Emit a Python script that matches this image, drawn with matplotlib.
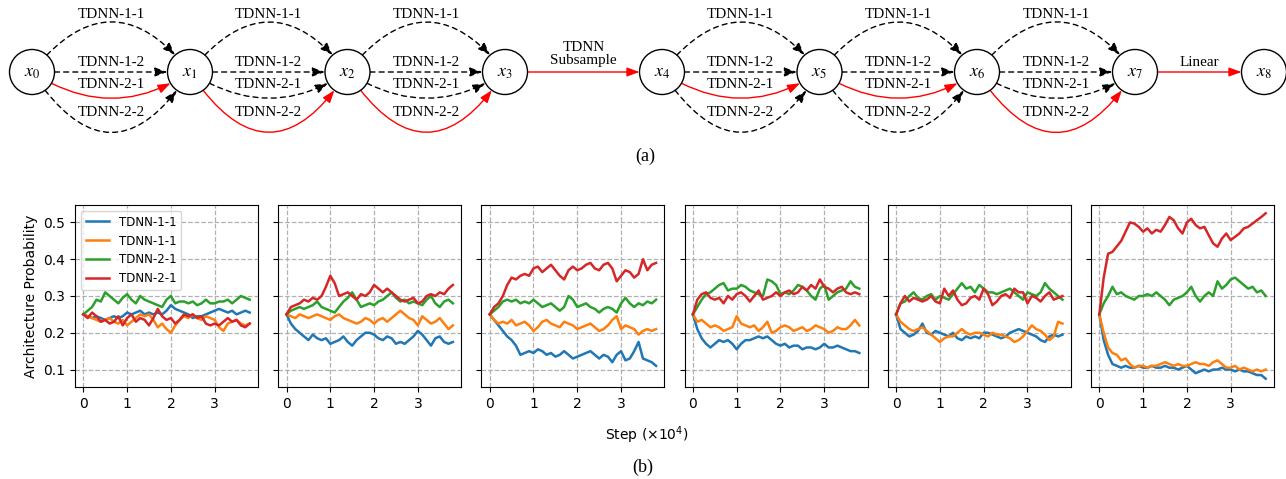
import numpy as np
import matplotlib
matplotlib.use("Agg")
import matplotlib.pyplot as plt
from matplotlib.patches import Circle, FancyArrowPatch

# ---------------- data ----------------
legend_labels = ["TDNN-1-1", "TDNN-1-1", "TDNN-2-1", "TDNN-2-1"]
x_ticks = [0, 1, 2, 3]
y_ticks = [0.1, 0.2, 0.3, 0.4, 0.5]
step_max = 3.8

blue1 = [0.25,0.245,0.24,0.245,0.24,0.235,0.24,0.245,0.24,0.245,0.255,0.25,0.255,0.26,0.25,0.255,0.25,0.255,0.25,0.26,0.275,0.265,0.26,0.255,0.25,0.24,0.245,0.245,0.25,0.255,0.26,0.265,0.26,0.255,0.26,0.25,0.255,0.26,0.255]
orange1 = [0.25,0.245,0.24,0.235,0.23,0.235,0.24,0.23,0.225,0.235,0.22,0.23,0.24,0.25,0.245,0.25,0.235,0.215,0.225,0.21,0.2,0.22,0.235,0.245,0.24,0.25,0.24,0.235,0.245,0.24,0.235,0.215,0.205,0.225,0.23,0.235,0.225,0.22,0.225]
green1 = [0.25,0.26,0.27,0.29,0.285,0.31,0.30,0.29,0.28,0.295,0.305,0.29,0.28,0.30,0.29,0.285,0.28,0.275,0.27,0.29,0.30,0.28,0.285,0.285,0.28,0.285,0.275,0.28,0.29,0.28,0.28,0.285,0.285,0.29,0.28,0.29,0.30,0.295,0.29]
red1 = [0.25,0.24,0.255,0.245,0.23,0.235,0.225,0.23,0.245,0.22,0.24,0.25,0.23,0.24,0.235,0.22,0.24,0.265,0.245,0.235,0.24,0.225,0.235,0.25,0.245,0.25,0.24,0.245,0.225,0.22,0.225,0.22,0.23,0.24,0.23,0.235,0.22,0.215,0.225]

blue2 = [0.25,0.225,0.21,0.2,0.19,0.18,0.195,0.185,0.18,0.185,0.17,0.175,0.18,0.19,0.175,0.165,0.18,0.19,0.2,0.2,0.195,0.185,0.18,0.19,0.185,0.17,0.175,0.17,0.18,0.19,0.205,0.195,0.18,0.165,0.185,0.19,0.175,0.17,0.175]
orange2 = [0.25,0.245,0.24,0.25,0.245,0.24,0.245,0.25,0.245,0.24,0.235,0.245,0.25,0.24,0.235,0.23,0.225,0.23,0.24,0.235,0.225,0.235,0.24,0.23,0.24,0.25,0.26,0.25,0.24,0.235,0.22,0.245,0.235,0.225,0.23,0.24,0.225,0.21,0.22]
green2 = [0.25,0.26,0.265,0.27,0.265,0.27,0.275,0.285,0.27,0.265,0.26,0.255,0.27,0.285,0.295,0.31,0.29,0.27,0.275,0.28,0.275,0.285,0.29,0.30,0.31,0.295,0.285,0.29,0.28,0.285,0.28,0.275,0.29,0.30,0.28,0.27,0.285,0.29,0.28]
red2 = [0.25,0.27,0.275,0.28,0.29,0.285,0.295,0.29,0.30,0.325,0.355,0.335,0.30,0.305,0.31,0.30,0.29,0.305,0.30,0.31,0.33,0.32,0.31,0.32,0.31,0.30,0.29,0.285,0.29,0.295,0.28,0.285,0.30,0.305,0.30,0.31,0.305,0.32,0.33]

blue3 = [0.25,0.235,0.22,0.205,0.19,0.18,0.165,0.14,0.145,0.15,0.145,0.155,0.15,0.14,0.145,0.135,0.14,0.15,0.14,0.13,0.135,0.14,0.145,0.15,0.14,0.13,0.14,0.135,0.12,0.14,0.15,0.125,0.13,0.15,0.175,0.13,0.125,0.12,0.11]
orange3 = [0.25,0.235,0.225,0.23,0.225,0.235,0.22,0.225,0.23,0.22,0.205,0.215,0.23,0.235,0.225,0.22,0.215,0.23,0.225,0.22,0.21,0.215,0.22,0.225,0.215,0.205,0.21,0.22,0.235,0.245,0.21,0.22,0.215,0.21,0.195,0.205,0.21,0.205,0.21]
green3 = [0.25,0.26,0.27,0.285,0.29,0.285,0.29,0.28,0.285,0.28,0.29,0.28,0.27,0.275,0.28,0.27,0.26,0.27,0.30,0.29,0.27,0.275,0.28,0.27,0.265,0.255,0.265,0.27,0.265,0.255,0.28,0.295,0.28,0.27,0.28,0.275,0.285,0.28,0.29]
red3 = [0.25,0.27,0.28,0.30,0.33,0.35,0.345,0.355,0.36,0.355,0.375,0.38,0.365,0.375,0.385,0.37,0.355,0.345,0.37,0.38,0.37,0.375,0.385,0.39,0.375,0.37,0.385,0.39,0.375,0.34,0.355,0.37,0.365,0.35,0.36,0.40,0.37,0.385,0.39]

blue4 = [0.25,0.21,0.185,0.17,0.16,0.17,0.18,0.175,0.18,0.17,0.155,0.17,0.18,0.18,0.185,0.19,0.185,0.19,0.18,0.17,0.165,0.17,0.16,0.165,0.165,0.155,0.16,0.16,0.155,0.16,0.17,0.16,0.16,0.165,0.16,0.155,0.15,0.15,0.145]
orange4 = [0.25,0.23,0.235,0.225,0.215,0.22,0.215,0.205,0.21,0.215,0.245,0.225,0.22,0.215,0.22,0.205,0.215,0.23,0.20,0.205,0.215,0.22,0.215,0.205,0.21,0.215,0.205,0.21,0.22,0.215,0.21,0.20,0.205,0.215,0.21,0.21,0.22,0.235,0.22]
green4 = [0.25,0.27,0.29,0.305,0.31,0.32,0.33,0.335,0.315,0.32,0.32,0.33,0.325,0.315,0.31,0.305,0.30,0.345,0.34,0.33,0.305,0.31,0.305,0.315,0.33,0.325,0.315,0.30,0.29,0.32,0.33,0.29,0.30,0.31,0.315,0.32,0.34,0.325,0.32]
red4 = [0.25,0.29,0.305,0.31,0.295,0.29,0.295,0.28,0.30,0.29,0.305,0.31,0.30,0.285,0.30,0.315,0.29,0.295,0.30,0.31,0.30,0.31,0.315,0.305,0.31,0.325,0.315,0.33,0.32,0.345,0.325,0.32,0.31,0.32,0.325,0.31,0.305,0.31,0.305]

blue5 = [0.25,0.21,0.2,0.19,0.195,0.205,0.225,0.2,0.195,0.205,0.2,0.195,0.19,0.2,0.185,0.18,0.19,0.185,0.19,0.185,0.2,0.2,0.195,0.19,0.185,0.19,0.2,0.205,0.21,0.205,0.2,0.195,0.19,0.18,0.175,0.19,0.195,0.19,0.195]
orange5 = [0.25,0.23,0.22,0.21,0.205,0.21,0.215,0.205,0.195,0.185,0.175,0.185,0.19,0.19,0.2,0.21,0.2,0.195,0.2,0.2,0.195,0.19,0.2,0.195,0.195,0.19,0.185,0.175,0.18,0.19,0.205,0.22,0.21,0.205,0.195,0.18,0.19,0.23,0.225]
green5 = [0.25,0.28,0.285,0.30,0.31,0.295,0.29,0.30,0.305,0.29,0.30,0.295,0.29,0.305,0.32,0.335,0.32,0.325,0.31,0.33,0.32,0.31,0.31,0.305,0.31,0.315,0.32,0.31,0.30,0.29,0.31,0.305,0.30,0.31,0.335,0.32,0.31,0.30,0.29]
red5 = [0.25,0.28,0.30,0.285,0.295,0.29,0.285,0.29,0.30,0.285,0.28,0.32,0.30,0.315,0.29,0.275,0.28,0.295,0.30,0.29,0.32,0.305,0.275,0.285,0.30,0.305,0.295,0.32,0.31,0.31,0.28,0.30,0.295,0.285,0.30,0.31,0.29,0.295,0.30]

blue6 = [0.25,0.18,0.14,0.115,0.11,0.105,0.11,0.105,0.105,0.11,0.105,0.105,0.11,0.105,0.105,0.11,0.105,0.105,0.1,0.105,0.11,0.1,0.09,0.095,0.1,0.095,0.1,0.1,0.105,0.1,0.1,0.095,0.1,0.095,0.095,0.09,0.085,0.085,0.075]
orange6 = [0.25,0.2,0.16,0.145,0.14,0.125,0.13,0.115,0.105,0.11,0.11,0.105,0.11,0.11,0.115,0.12,0.115,0.11,0.115,0.11,0.11,0.115,0.12,0.115,0.115,0.11,0.12,0.125,0.115,0.105,0.105,0.11,0.1,0.105,0.1,0.095,0.1,0.095,0.1]
green6 = [0.25,0.28,0.30,0.325,0.305,0.31,0.30,0.295,0.29,0.30,0.30,0.305,0.30,0.31,0.30,0.29,0.275,0.29,0.295,0.30,0.31,0.325,0.30,0.285,0.30,0.31,0.30,0.34,0.32,0.33,0.345,0.35,0.34,0.33,0.32,0.325,0.31,0.315,0.30]
red6 = [0.25,0.35,0.415,0.42,0.435,0.45,0.475,0.5,0.497,0.488,0.475,0.484,0.47,0.48,0.475,0.493,0.515,0.506,0.484,0.47,0.5,0.51,0.493,0.484,0.488,0.465,0.443,0.434,0.456,0.47,0.452,0.461,0.47,0.484,0.488,0.497,0.506,0.515,0.525]

panels = [
    [blue1, orange1, green1, red1],
    [blue2, orange2, green2, red2],
    [blue3, orange3, green3, red3],
    [blue4, orange4, green4, red4],
    [blue5, orange5, green5, red5],
    [blue6, orange6, green6, red6],
]

# Architecture diagram content
node_names = ["$x_0$", "$x_1$", "$x_2$", "$x_3$", "$x_4$", "$x_5$", "$x_6$", "$x_7$", "$x_8$"]
ops = ["TDNN-1-1", "TDNN-1-2", "TDNN-2-1", "TDNN-2-2"]
chosen_ops = ["TDNN-2-1", "TDNN-2-2", "TDNN-2-2", None, "TDNN-2-1", "TDNN-2-1", "TDNN-2-2", None]
single_edges = {3: "TDNN\nSubsample", 7: "Linear"}

colors = ["#1f77b4", "#ff7f0e", "#2ca02c", "#d62728"]

# ---------------- figure ----------------
W, H = 1286, 479
fig = plt.figure(figsize=(W / 100, H / 100), dpi=100)

# ---- (a) diagram, drawn in pixel-like coordinates ----
top_h = 175
axd = fig.add_axes([0, 1 - top_h / H, 1, top_h / H])
axd.set_xlim(0, W)
axd.set_ylim(top_h, 0)
axd.axis("off")

node_x = [32, 190, 347.5, 505, 662, 819.5, 977, 1135, 1264]
cy = 72
r = 22.5
r_pt = r * 0.72
serif = "Liberation Serif"
label_fs = 10.9

op_geom = {  # rad of arc, label y
    "TDNN-1-1": (-0.63, 14),
    "TDNN-1-2": (0.0, 62),
    "TDNN-2-1": (0.33, 85),
    "TDNN-2-2": (0.76, 112),
}

def arrow(xa, xb, rad, color, dashed):
    ls = (0, (3.6, 3.0)) if dashed else "-"
    p = FancyArrowPatch((xa, cy), (xb, cy),
                        connectionstyle=f"arc3,rad={rad}",
                        arrowstyle="-|>,head_length=0.75,head_width=0.27",
                        mutation_scale=10, shrinkA=r_pt, shrinkB=r_pt,
                        color=color, lw=1.0, linestyle=ls, zorder=2)
    axd.add_patch(p)

for i in range(len(node_x) - 1):
    xa, xb = node_x[i], node_x[i + 1]
    xm = (xa + xb) / 2
    if i in single_edges:
        arrow(xa, xb, 0.0, "red", False)
        lab = single_edges[i]
        axd.text(xm, 54 if "\n" in lab else 62, lab, ha="center", va="center",
                 family=serif, fontsize=label_fs, linespacing=1.05)
        continue
    for op in ops:
        rad, ly = op_geom[op]
        chosen = (op == chosen_ops[i])
        arrow(xa, xb, rad, "red" if chosen else "black", not chosen)
        axd.text(xm, ly, op, ha="center", va="center", family=serif,
                 fontsize=label_fs, zorder=3)

for nx, nm in zip(node_x, node_names):
    axd.add_patch(Circle((nx, cy), r, facecolor="white", edgecolor="black", lw=1.0, zorder=4))
    axd.text(nx, cy, nm, ha="center", va="center", fontsize=13,
             math_fontfamily="stix", zorder=5)

fig.text(645 / W, 1 - 156 / H, "(a)", ha="center", va="center", family=serif, fontsize=13)

# ---- (b) probability curves ----
ax_w = 183 / W
ax_b = 1 - 387 / H
ax_h = 182 / H
axes = []
for k, series in enumerate(panels):
    left = (75 + 203.2 * k) / W
    ax = fig.add_axes([left, ax_b, ax_w, ax_h])
    axes.append(ax)
    for s, c, lab in zip(series, colors, legend_labels):
        xs = np.linspace(0, step_max, len(s))
        ax.plot(xs, s, color=c, lw=1.8, label=lab)
    ax.set_ylim(0.0525, 0.5475)
    ax.set_xlim(-0.19, 3.99)
    ax.set_xticks(x_ticks)
    ax.set_yticks(y_ticks)
    ax.grid(True, linestyle="--", color="#b0b0b0", lw=0.9)
    ax.tick_params(labelsize=10)
    if k == 0:
        ax.set_ylabel("Architecture Probability", fontsize=10)
        ax.legend(loc="upper left", fontsize=8.5)
    else:
        ax.set_yticklabels([])

fig.text(647 / W, 1 - 435 / H, "Step ($\\times10^4$)", ha="center", va="center", fontsize=10)
fig.text(643 / W, 1 - 467 / H, "(b)", ha="center", va="center", family=serif, fontsize=13)

fig.savefig("out.png", dpi=100)
